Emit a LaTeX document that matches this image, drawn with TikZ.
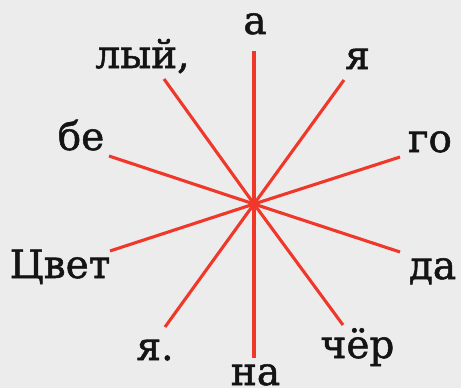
\documentclass[tikz,border=0pt]{standalone}
\usepackage{fontspec}
\setmainfont[FakeBold=1.3]{DejaVu Serif}
\definecolor{bg}{HTML}{ECECEC}
\definecolor{ray}{HTML}{F0382A}
\definecolor{ink}{HTML}{141414}
\begin{document}
\begin{tikzpicture}[x=1pt,y=-1pt,
  word/.style={anchor=base,inner sep=0pt,text=ink,font=\fontsize{39}{40}\selectfont},
  rayline/.style={draw=ray,line width=3.1pt}]
\fill[bg] (0,0) rectangle (461,388);
\useasboundingbox (0,0) rectangle (461,388);
\coordinate (c) at (254,204);
\coordinate (eA) at (254,51);
\coordinate (eNa) at (254,358);
\coordinate (eYa) at (344,80);
\coordinate (eLy) at (164,79);
\coordinate (eGo) at (400,157);
\coordinate (eBe) at (109,156);
\coordinate (eDa) at (400,252);
\coordinate (eTsv) at (110,251);
\coordinate (eCh) at (343,325);
\coordinate (eYa2) at (165,327);
\foreach \e in {eA,eNa,eYa,eLy,eGo,eBe,eDa,eTsv,eCh,eYa2}
  \draw[rayline] (c) -- (\e);
\fill[ray] (c) circle (2.6pt);
\node[word] (a) at (255,34) {а};
\node[word] (ly) at (142.5,68) {лый,};
\node[word] (ya) at (357.5,69) {я};
\node[word] (be) at (81,150) {бе};
\node[word] (go) at (430,152) {го};
\node[word] (tsvet) at (60,278) {Цвет};
\node[word] (da) at (432.5,279) {да};
\node[word] (ya2) at (155,360) {я.};
\node[word] (cher) at (357.5,358) {чёр};
\node[word] (na) at (255.5,385) {на};
\end{tikzpicture}
\end{document}
